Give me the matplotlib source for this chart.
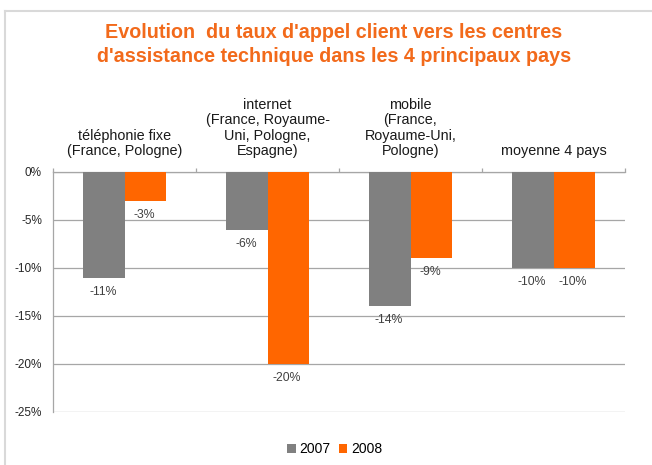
import numpy as np
import matplotlib
matplotlib.use('Agg')
import matplotlib.pyplot as plt
from matplotlib.lines import Line2D
from matplotlib.patches import Patch

# data
categories = ['téléphonie fixe\n(France, Pologne)',
              'internet\n(France, Royaume-\nUni, Pologne,\nEspagne)',
              'mobile\n(France,\nRoyaume-Uni,\nPologne)',
              'moyenne 4 pays']
years  = ['2007', '2008']
v2007  = [-11, -6, -14, -10]
v2008  = [-3, -20, -9, -10]
yticks = [0, -5, -10, -15, -20, -25]

# style
grey   = '#808080'
orange = '#FF6600'
gridc  = '#A6A6A6'
plt.rcParams['font.family'] = ['Liberation Sans', 'DejaVu Sans']

fig = plt.figure(figsize=(6.52, 4.65), dpi=100)
ax = fig.add_axes([53/652, 1-412/465, 572/652, 240/465])

x = np.arange(len(categories))
w = 0.287
b1 = ax.bar(x - w/2, v2007, w, color=grey, zorder=3)
b2 = ax.bar(x + w/2, v2008, w, color=orange, zorder=3)

# data labels under bar ends
for bars, vals in [(b1, v2007), (b2, v2008)]:
    for r, v in zip(bars, vals):
        ax.annotate('%d%%' % v, (r.get_x() + r.get_width()/2, v),
                    xytext=(-1, -14), textcoords='offset pixels',
                    ha='center', va='center', fontsize=8.8, color='#404040')

# category labels above the 0 line
for i, c in enumerate(categories):
    ax.annotate(c, (i, 0), xytext=(0, 14), textcoords='offset pixels',
                ha='center', va='bottom', fontsize=10.4, linespacing=1.13,
                color='#1a1a1a', annotation_clip=False)

ax.set_xlim(-0.5, len(categories) - 0.5)
ax.set_ylim(-25, 0)
ax.set_yticks(yticks)
ax.set_yticklabels(['%d%%' % t for t in yticks], fontsize=8.5, color='#262626')
ax.yaxis.grid(True, color=gridc, lw=0.9, zorder=0)
ax.tick_params(axis='y', length=0, pad=8)

# category boundary ticks on the 0 line
ax.xaxis.tick_top()
ax.set_xticks(np.arange(-0.5, len(categories)))
ax.set_xticklabels([])
ax.tick_params(axis='x', direction='out', length=3, color=gridc, width=0.9)

for s in ['right', 'bottom']:
    ax.spines[s].set_visible(False)
for s in ['top', 'left']:
    ax.spines[s].set_color(gridc)
    ax.spines[s].set_linewidth(0.9)

# title
fig.text(334/652, 1-33/465, "Evolution  du taux d'appel client vers les centres",
         ha='center', va='center', fontsize=14.2, fontweight='bold', color='#F26A1B')
fig.text(334/652, 1-57/465, "d'assistance technique dans les 4 principaux pays",
         ha='center', va='center', fontsize=14.2, fontweight='bold', color='#F26A1B')

# legend
handles = [Patch(facecolor=grey, label=years[0]), Patch(facecolor=orange, label=years[1])]
fig.legend(handles=handles, loc='center', bbox_to_anchor=(335/652, 1-449/465), ncol=2,
           frameon=False, fontsize=10, handlelength=0.6, handleheight=0.6,
           handletextpad=0.3, columnspacing=0.6)

# outer frame (left and top edges visible)
fig.add_artist(Line2D([5/652, 5/652], [0, 1-11/465], color='#D9D9D9', lw=1.5,
                      transform=fig.transFigure))
fig.add_artist(Line2D([5/652, 1], [1-11/465, 1-11/465], color='#D9D9D9', lw=1.5,
                      transform=fig.transFigure))

fig.savefig('out.png', dpi=100)
